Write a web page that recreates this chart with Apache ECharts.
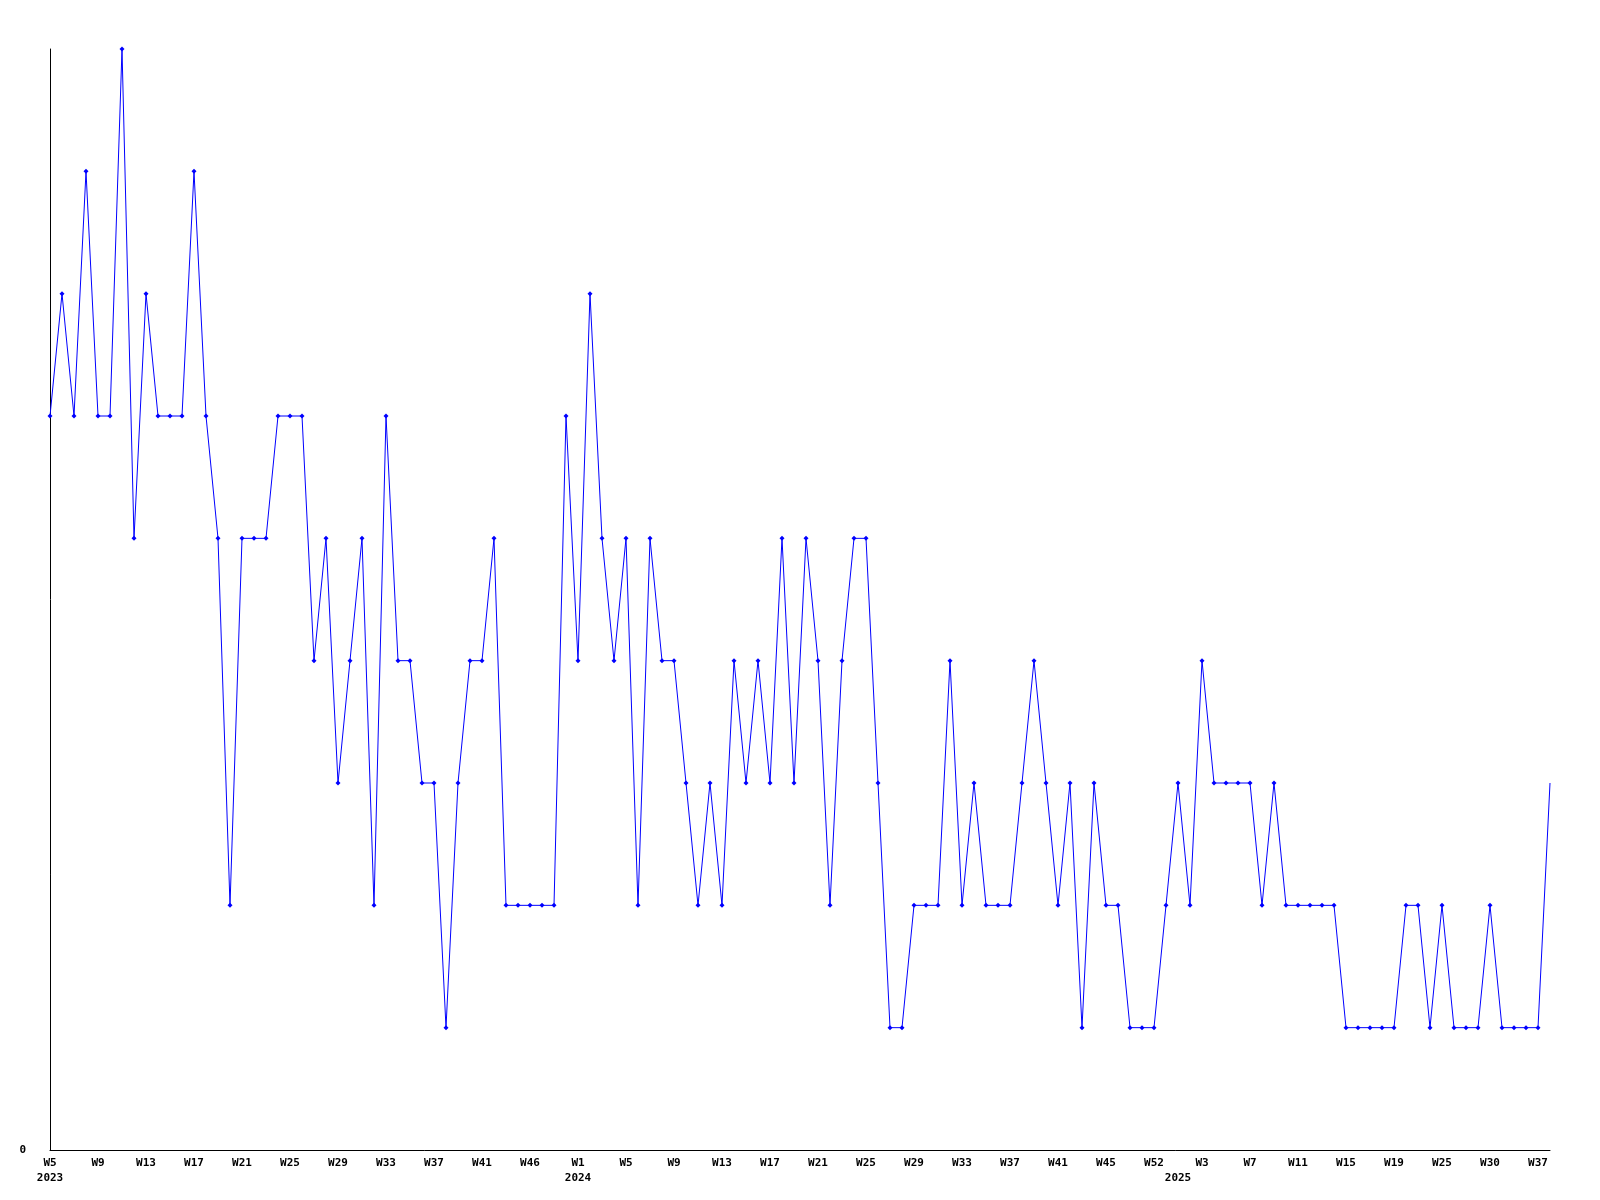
<!DOCTYPE html>
<html>
<head>
<meta charset="utf-8">
<script src="https://cdn.jsdelivr.net/npm/echarts@6/dist/echarts.min.js"></script>
<style>
html,body{margin:0;padding:0;background:#fff;}
#chart{width:1600px;height:1200px;}
</style>
</head>
<body>
<div id="chart"></div>
<script>
const categories = [
'2023-W05','2023-W06','2023-W07','2023-W08','2023-W09','2023-W10','2023-W11','2023-W12','2023-W13','2023-W14',
'2023-W15','2023-W16','2023-W17','2023-W18','2023-W19','2023-W20','2023-W21','2023-W22','2023-W23','2023-W24',
'2023-W25','2023-W26','2023-W27','2023-W28','2023-W29','2023-W30','2023-W31','2023-W32','2023-W33','2023-W34',
'2023-W35','2023-W36','2023-W37','2023-W38','2023-W39','2023-W40','2023-W41','2023-W42','2023-W43','2023-W44',
'2023-W46','2023-W48','2023-W50','2023-W51',
'2024-W01','2024-W02','2024-W03','2024-W04','2024-W05','2024-W06','2024-W07','2024-W08','2024-W09','2024-W10',
'2024-W11','2024-W12','2024-W13','2024-W14','2024-W15','2024-W16','2024-W17','2024-W18','2024-W19','2024-W20',
'2024-W21','2024-W22','2024-W23','2024-W24','2024-W25','2024-W26','2024-W27','2024-W28','2024-W29','2024-W30',
'2024-W31','2024-W32','2024-W33','2024-W34','2024-W35','2024-W36','2024-W37','2024-W38','2024-W39','2024-W40',
'2024-W41','2024-W42','2024-W43','2024-W44','2024-W45','2024-W47','2024-W49','2024-W51','2024-W52','2024-W53',
'2025-W01','2025-W02','2025-W03','2025-W04','2025-W05','2025-W06','2025-W07','2025-W08','2025-W09','2025-W10',
'2025-W11','2025-W12','2025-W13','2025-W14','2025-W15','2025-W16','2025-W17','2025-W18','2025-W19',
'2025-W20','2025-W22','2025-W23','2025-W25','2025-W26','2025-W27','2025-W29','2025-W30',
'2025-W32','2025-W34','2025-W35','2025-W37','2025-W38'
];

const counts = [
6,7,6,8,6,6,9,5,7,6,
6,6,8,6,5,2,5,5,5,6,
6,6,4,5,3,4,5,2,6,4,
4,3,3,1,3,4,4,5,2,2,
2,2,2,6,4,7,5,4,5,2,
5,4,4,3,2,3,2,4,3,4,
3,5,3,5,4,2,4,5,5,3,
1,1,2,2,2,4,2,3,2,2,
2,3,4,3,2,3,1,3,2,2,
1,1,1,2,3,2,4,3,3,3,
3,2,3,2,2,2,2,2,1,1,
1,1,1,2,2,1,2,1,1,1,
2,1,1,1,1,3
];

const yTickLabels = ['0'];

const labelFont = { fontFamily: 'DejaVu Sans Mono', fontWeight: 'bold', fontSize: 11, color: '#000' };

const chart = echarts.init(document.getElementById('chart'), null, { renderer: 'canvas' });
chart.setOption({
  animation: false,
  backgroundColor: '#fff',
  grid: { left: 50, right: 50, top: 49, bottom: 50, containLabel: false },
  xAxis: [
    {
      type: 'category',
      data: categories,
      boundaryGap: false,
      axisLine: { show: true, lineStyle: { color: '#000', width: 1 } },
      axisTick: { show: false },
      splitLine: { show: false },
      axisLabel: Object.assign({
        margin: 8,
        interval: function (i) { return i % 4 === 0; },
        formatter: function (v) { return 'W' + parseInt(v.split('-W')[1], 10); }
      }, labelFont)
    },
    {
      type: 'category',
      data: categories,
      boundaryGap: false,
      position: 'bottom',
      offset: 15,
      axisLine: { show: false },
      axisTick: { show: false },
      splitLine: { show: false },
      axisLabel: Object.assign({
        margin: 8,
        interval: function (i, v) { return i === 0 || categories[i].slice(0, 4) !== categories[i - 1].slice(0, 4); },
        formatter: function (v) { return v.slice(0, 4); }
      }, labelFont)
    }
  ],
  yAxis: {
    type: 'value',
    min: 0,
    max: 9,
    interval: 1,
    axisLine: { show: true, lineStyle: { color: '#000', width: 1 } },
    axisTick: { show: false },
    splitLine: { show: false },
    axisLabel: Object.assign({
      margin: 24,
      formatter: function (v) { return yTickLabels.indexOf(String(v)) >= 0 ? String(v) : ''; }
    }, labelFont)
  },
  series: [{
    type: 'line',
    xAxisIndex: 0,
    data: counts,
    symbol: function (v, p) { return p.dataIndex === counts.length - 1 ? 'none' : 'diamond'; },
    symbolSize: 5,
    showAllSymbol: true,
    lineStyle: { color: '#0000ff', width: 1 },
    itemStyle: { color: '#0000ff' }
  }]
});
</script>
</body>
</html>
